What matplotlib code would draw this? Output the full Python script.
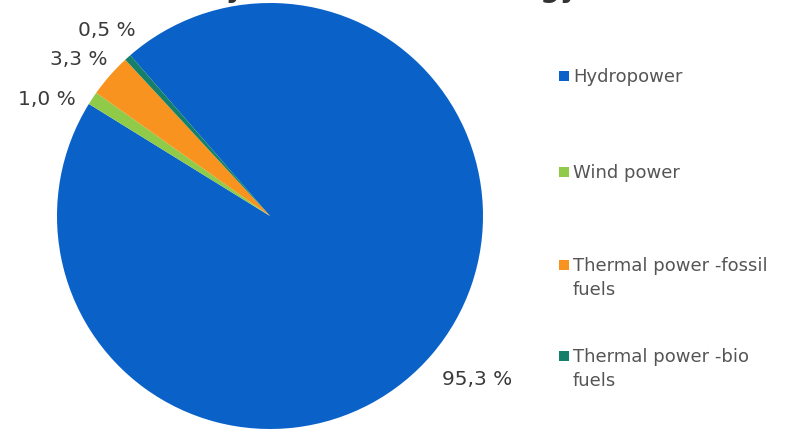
import numpy as np
import matplotlib.pyplot as plt
from matplotlib.patches import Rectangle

# electricity production by source, share in percent
sources = ["Hydropower", "Wind power", "Thermal power -fossil\nfuels", "Thermal power -bio\nfuels"]
shares = [95.3, 1.0, 3.3, 0.5]
colors = ["#0A62C9", "#8FCB48", "#F7931E", "#14806A"]

title = "Electricity mix: share of energy"

W, H = 786, 432
fig = plt.figure(figsize=(W / 100, H / 100), dpi=100)
fig.patch.set_facecolor("white")

# pie centre and radius in pixels
cx, cy, r = 270, 216, 213
ax = fig.add_axes([(cx - r) / W, (H - cy - r) / H, 2 * r / W, 2 * r / H])
wedges, _ = ax.pie(shares, colors=colors, startangle=131, counterclock=False,
                   radius=1.0, wedgeprops=dict(linewidth=0))
ax.set_xlim(-1, 1)
ax.set_ylim(-1, 1)
ax.set_aspect("equal")
ax.axis("off")

# percentage labels outside the slices
label_dist = [1.24, 1.18, 1.16, 1.16]
label_shift = [2.0, 6.0, 2.0, -0.5]
for w, v, d, s in zip(wedges, shares, label_dist, label_shift):
    ang = np.deg2rad((w.theta1 + w.theta2) / 2 + s)
    txt = f"{v:.1f} %".replace(".", ",")
    ax.text(d * np.cos(ang), d * np.sin(ang), txt, ha="center", va="center",
            fontsize=14.5, color="#3a3a3a", clip_on=False)

# legend drawn by hand so the swatch sits on the first text line
leg_y = [76, 172, 265, 356]
for name, col, y in zip(sources, colors, leg_y):
    fig.patches.append(Rectangle((559 / W, (H - y - 5) / H), 10 / W, 10 / H,
                                 transform=fig.transFigure, facecolor=col,
                                 edgecolor="none"))
    fig.text(573 / W, (H - y + 8) / H, name, ha="left", va="top",
             fontsize=13, color="#555555", linespacing=1.4)

# title runs off the top edge, only the descenders show
fig.text(578 / W, (H + 3) / H, title, ha="right", va="baseline",
         fontsize=20, fontweight="bold", color="#333333")

fig.savefig("out.png", dpi=100, facecolor="white")
